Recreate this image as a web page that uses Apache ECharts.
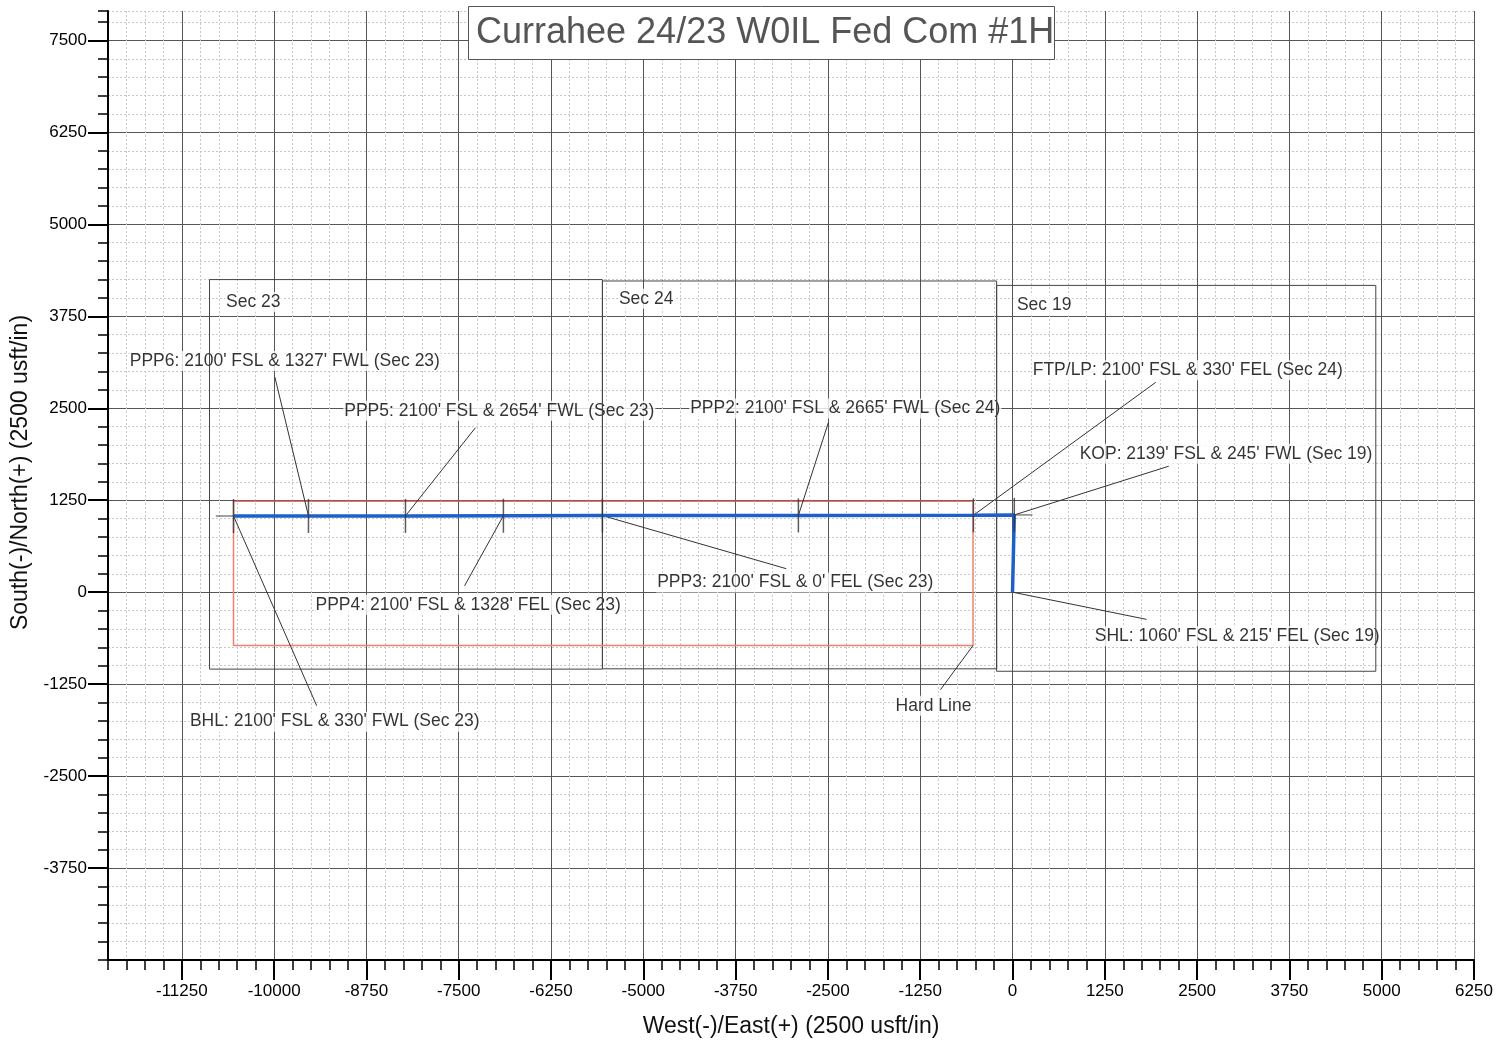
<!DOCTYPE html>
<html>
<head>
<meta charset="utf-8">
<title>Currahee 24/23 W0IL Fed Com #1H</title>
<script src="https://cdn.jsdelivr.net/npm/echarts@6/dist/echarts.min.js"></script>
<style>
  html, body { margin: 0; padding: 0; background: #fff; }
  #plan { width: 1509px; height: 1045px; }
</style>
</head>
<body>
<div id="plan"></div>
<script>
  // axis tick labels (usft)
  const xMajor = [-11250, -10000, -8750, -7500, -6250, -5000, -3750, -2500, -1250, 0, 1250, 2500, 3750, 5000, 6250];
  const yMajor = [-3750, -2500, -1250, 0, 1250, 2500, 3750, 5000, 6250, 7500];

  // wellbore path, SHL -> BHL (E/W, N/S)
  const wellPts = ['SHL', 'KOP', 'FTP/LP', 'PPP2', 'PPP3', 'PPP4', 'PPP5', 'PPP6', 'BHL'];
  const wellE = [0, 24, -530, -2900, -5554, -6895, -8221, -9535, -10550];
  const wellN = [0, 1050, 1045, 1043, 1041, 1039, 1037, 1036, 1035];

  // section boxes
  const secNames = ['Sec 23', 'Sec 24', 'Sec 19'];
  const secW = [-10875, -5554, -215];
  const secE = [-5554, -215, 4920];
  const secS = [-1046, -1042, -1075];
  const secN = [4249, 4230, 4170];

  // hard line
  const hardW = -10550, hardE = -535, hardS = -725, hardN = 1238;

  // annotation text + where it sits, and where its leader starts
  const noteText = [
    'Sec 23', 'Sec 24', 'Sec 19',
    "PPP6: 2100' FSL & 1327' FWL (Sec 23)",
    "PPP5: 2100' FSL & 2654' FWL (Sec 23)",
    "PPP2: 2100' FSL & 2665' FWL (Sec 24)",
    "FTP/LP: 2100' FSL & 330' FEL (Sec 24)",
    "KOP: 2139' FSL & 245' FWL (Sec 19)",
    "PPP4: 2100' FSL & 1328' FEL (Sec 23)",
    "PPP3: 2100' FSL & 0' FEL (Sec 23)",
    "SHL: 1060' FSL & 215' FEL (Sec 19)",
    "BHL: 2100' FSL & 330' FWL (Sec 23)",
    'Hard Line'
  ];
  const noteE = [-10665, -5344, 46, -11969, -9064, -4379, 260, 896, -9453, -4826, 1101, -11154, -1598];
  const noteN = [3944, 3987, 3899, 3141, 2467, 2497, 3016, 1880, -170, 130, -600, -1760, -1545];

  const leaderTo = ['PPP6', 'PPP5', 'PPP2', 'FTP/LP', 'KOP', 'PPP4', 'PPP3', 'SHL', 'BHL'];
  const leaderE = [-9990, -7274, -2494, 1940, 2116, -7421, -3064, 1816, -9424];
  const leaderN = [2924, 2235, 2305, 2853, 1712, 87, 319, -370, -1543];
  const hardLeader = [[-976, -1326], [hardE, hardS]];

  // short plan line running under the blue path
  const planE = [-10790, 270];
  const planN = [1035, 1050];

  const chart = echarts.init(document.getElementById('plan'));
  const font = 'Liberation Sans, Arial, sans-serif';

  const wellData = wellE.map((e, i) => [e, wellN[i]]);
  const ptIdx = n => wellPts.indexOf(n);

  const secSeries = secNames.map((n, i) => ({
    type: 'line',
    name: n,
    xAxisIndex: 0, yAxisIndex: 0,
    z: 4,
    symbol: 'none',
    silent: true,
    lineStyle: { color: '#444', width: 1 },
    data: [[secW[i], secS[i]], [secW[i], secN[i]], [secE[i], secN[i]], [secE[i], secS[i]], [secW[i], secS[i]]]
  }));

  const leaders = leaderTo.map((n, i) => ({
    coords: [[leaderE[i], leaderN[i]], wellData[ptIdx(n)]]
  }));
  leaders.push({ coords: hardLeader });

  const option = {
    backgroundColor: '#fff',
    animation: false,
    title: {
      text: 'Currahee 24/23 W0IL Fed Com #1H',
      left: 468,
      top: 6,
      backgroundColor: '#fff',
      borderColor: '#555',
      borderWidth: 1,
      padding: [9, 0, 9, 8],
      textStyle: { fontFamily: font, fontSize: 36, fontWeight: 'normal', color: '#555', lineHeight: 36 }
    },
    grid: { left: 108, right: 35, top: 11, bottom: 85 },
    xAxis: [
      {
        // minor grid, 250 usft
        type: 'value', position: 'bottom',
        min: -12250, max: 6250, interval: 250,
        axisLine: { show: true, onZero: false, lineStyle: { color: '#000', width: 2 } },
        axisTick: { show: true, length: 10, lineStyle: { color: '#000', width: 1.5 } },
        axisLabel: { show: false },
        splitLine: { show: true, lineStyle: { color: '#c8c8c8', width: 1, type: [2, 2] } }
      },
      {
        // major grid, 1250 usft
        type: 'value', position: 'bottom',
        min: -12250, max: 6250,
        name: 'West(-)/East(+) (2500 usft/in)',
        nameLocation: 'middle', nameGap: 55,
        nameTextStyle: { fontFamily: font, fontSize: 23, color: '#111' },
        axisLine: { show: false, onZero: false },
        axisTick: { show: true, customValues: xMajor, length: 20, lineStyle: { color: '#000', width: 2 } },
        axisLabel: { customValues: xMajor, formatter: v => String(v), fontFamily: font, fontSize: 17, color: '#000', margin: 23 },
        splitLine: { show: true, lineStyle: { color: '#555', width: 1 } }
      }
    ],
    yAxis: [
      {
        type: 'value', position: 'left',
        min: -5000, max: 7900, interval: 250,
        axisLine: { show: true, onZero: false, lineStyle: { color: '#000', width: 2 } },
        axisTick: { show: true, length: 10, lineStyle: { color: '#000', width: 1.5 } },
        axisLabel: { show: false },
        splitLine: { show: true, lineStyle: { color: '#c8c8c8', width: 1, type: [2, 2] } }
      },
      {
        type: 'value', position: 'left',
        min: -5000, max: 7900,
        name: 'South(-)/North(+) (2500 usft/in)',
        nameLocation: 'middle', nameGap: 71,
        nameTextStyle: { fontFamily: font, fontSize: 23, color: '#111', padding: [0, 0, 0, 26] },
        axisLine: { show: false, onZero: false },
        axisTick: { show: true, customValues: yMajor, length: 20, lineStyle: { color: '#000', width: 2 } },
        axisLabel: { customValues: yMajor, formatter: v => String(v), fontFamily: font, fontSize: 17, color: '#000', margin: 21 },
        splitLine: { show: true, lineStyle: { color: '#555', width: 1 } }
      }
    ],
    series: [
      // labels (white boxes hide the grid behind them)
      {
        type: 'scatter',
        name: 'notes',
        xAxisIndex: 0, yAxisIndex: 0,
        z: 3,
        symbolSize: 0,
        silent: true,
        data: noteText.map((t, i) => [noteE[i], noteN[i], t]),
        label: {
          show: true,
          position: 'right',
          distance: 0,
          formatter: p => p.data[2],
          fontFamily: font,
          fontSize: 17.5,
          color: '#000',
          backgroundColor: '#fff',
          padding: [1, 1]
        }
      },
      ...secSeries,
      // hard line
      {
        type: 'line', name: 'Hard Line', z: 4, symbol: 'none', silent: true,
        xAxisIndex: 0, yAxisIndex: 0,
        lineStyle: { color: '#f2806e', width: 1.5 },
        data: [[hardW, hardN], [hardW, hardS], [hardE, hardS], [hardE, hardN]]
      },
      {
        type: 'line', name: 'Hard Line top', z: 4, symbol: 'none', silent: true,
        xAxisIndex: 0, yAxisIndex: 0,
        lineStyle: { color: '#c0504e', width: 1.5 },
        data: [[hardW, hardN], [hardE, hardN]]
      },
      // leader lines
      {
        type: 'lines', coordinateSystem: 'cartesian2d', z: 5, silent: true,
        xAxisIndex: 0, yAxisIndex: 0,
        lineStyle: { color: '#333', width: 1, opacity: 1 },
        data: leaders
      },
      // plan line
      {
        type: 'line', name: 'plan', z: 5, symbol: 'none', silent: true,
        xAxisIndex: 0, yAxisIndex: 0,
        lineStyle: { color: '#444', width: 1 },
        data: planE.map((e, i) => [e, planN[i]])
      },
      // wellbore
      {
        type: 'line', name: 'Wellbore', z: 6, symbol: 'none', silent: true,
        xAxisIndex: 0, yAxisIndex: 0,
        lineStyle: { color: '#1f5fc8', width: 3.5 },
        data: wellData
      },
      // target tick marks
      {
        type: 'scatter', name: 'targets', z: 7, silent: true,
        xAxisIndex: 0, yAxisIndex: 0,
        symbol: 'rect', symbolSize: [1.5, 34],
        itemStyle: { color: '#333' },
        data: wellData.slice(1)
      }
    ]
  };
  chart.setOption(option);
</script>
</body>
</html>
